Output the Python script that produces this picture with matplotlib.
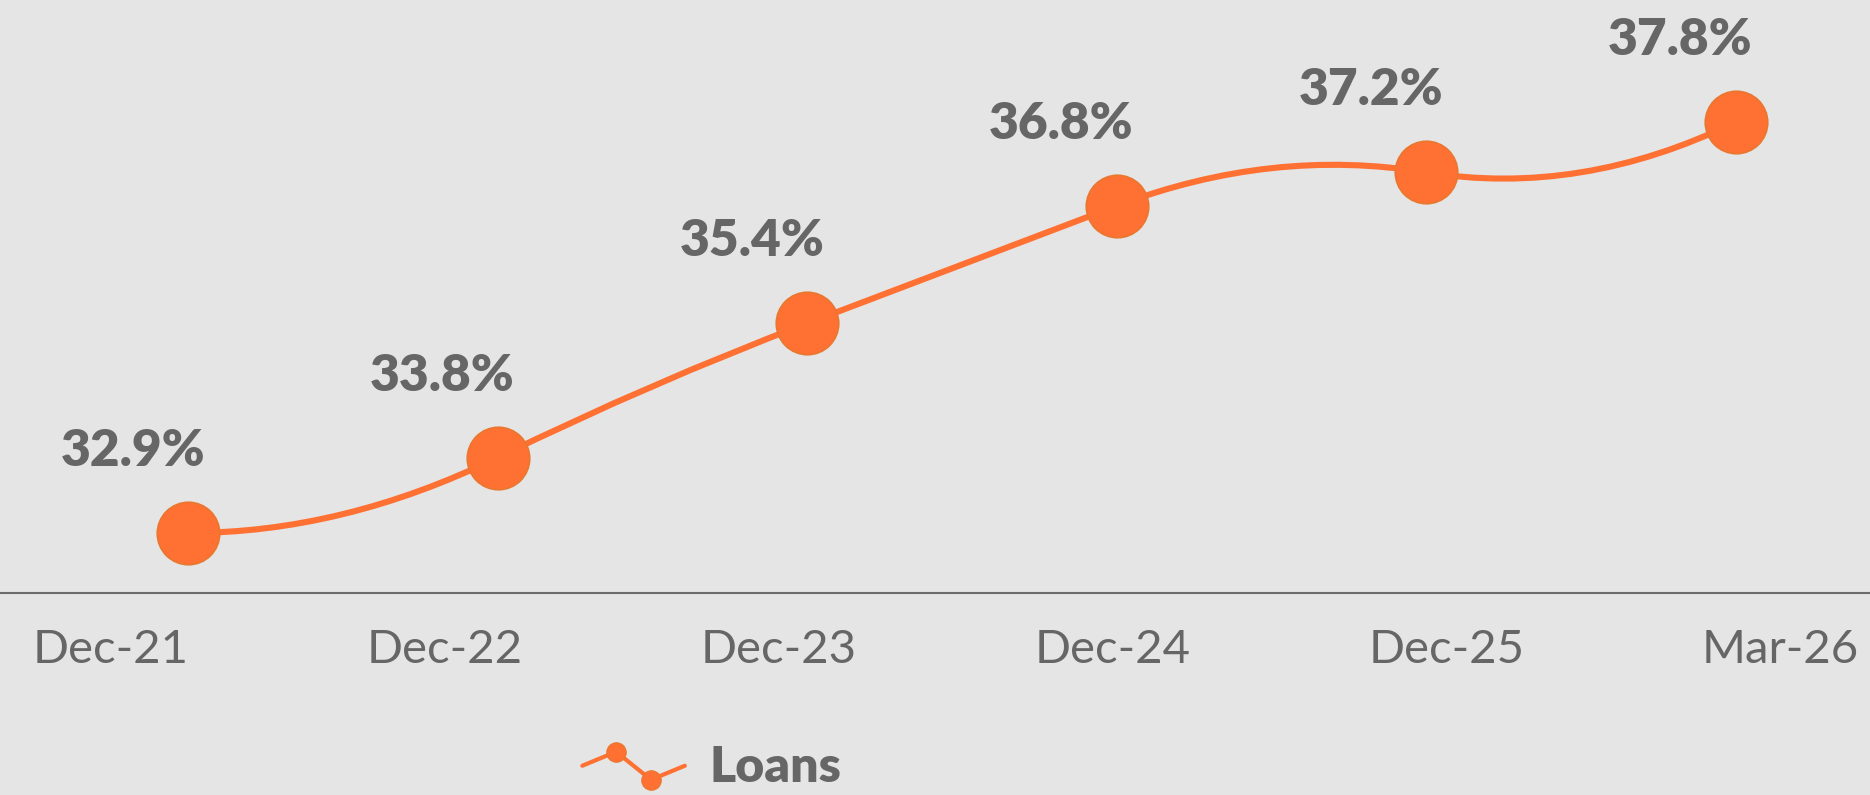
import numpy as np
import matplotlib
matplotlib.use("Agg")
import matplotlib.pyplot as plt
from matplotlib.path import Path
from matplotlib.patches import PathPatch
from matplotlib.lines import Line2D
from matplotlib.legend_handler import HandlerBase

# data
periods = ["Dec-21", "Dec-22", "Dec-23", "Dec-24", "Dec-25", "Mar-26"]
loans_pct = [32.9, 33.8, 35.4, 36.8, 37.2, 37.8]
series_name = "Loans"

BG = "#e5e5e5"
ORANGE = "#ff7033"
EDGE = "#e8772f"
GREY = "#666666"

plt.rcParams["font.family"] = ["Lato", "DejaVu Sans"]

W, H = 1870, 795
fig = plt.figure(figsize=(W / 100, H / 100), dpi=100)
fig.patch.set_facecolor(BG)

# main plot area: runs full width, bottom edge is the axis line
axis_y = 593
ax = fig.add_axes([0, (H - axis_y) / H, 1, axis_y / H])
ax.set_facecolor(BG)

x = np.arange(len(loans_pct))
y = np.array(loans_pct)

# first point sits 188px in, points are ~309.5px apart
step = 309.5
ax.set_xlim(-188.3 / step, (W - 188.3) / step)
px_per_unit = (533 - 122) / (y[-1] - y[0])
ax.set_ylim(y[0] - (axis_y - 533) / px_per_unit, y[-1] + 122 / px_per_unit)

# smooth line: quadratic spline pieces, slope carried across each point
slopes = [0.0]
for i in range(len(x) - 1):
    chord = (y[i + 1] - y[i]) / (x[i + 1] - x[i])
    slopes.append(2 * chord - slopes[-1])
verts = [(x[0], y[0])]
codes = [Path.MOVETO]
for i in range(len(x) - 1):
    dx = x[i + 1] - x[i]
    verts.append((x[i] + dx / 2, y[i] + slopes[i] * dx / 2))
    verts.append((x[i + 1], y[i + 1]))
    codes += [Path.CURVE3, Path.CURVE3]
ax.add_patch(PathPatch(Path(verts, codes), facecolor="none", edgecolor=ORANGE,
                       lw=4.4, capstyle="round", zorder=2))

ax.plot(x, y, ls="none", marker="o", ms=45, mfc=ORANGE, mec=EDGE, mew=1.2,
        zorder=3)

for xi, yi in zip(x, y):
    ax.annotate(f"{yi:.1f}%", (xi, yi), textcoords="offset points",
                xytext=(-40, 59), ha="center", va="center", fontsize=37,
                fontweight="heavy", color=GREY, zorder=4)

for s in ["top", "left", "right"]:
    ax.spines[s].set_visible(False)
ax.spines["bottom"].set_color("#6b6b6b")
ax.spines["bottom"].set_linewidth(1.5)
ax.set_xticks([])
ax.set_yticks([])

# category labels are spread evenly across the full width
lab = fig.add_axes(ax.get_position(), frameon=False)
lab.patch.set_alpha(0)
lab_step = 333.8
lab.set_xlim(-111 / lab_step, (W - 111) / lab_step)
lab.set_xticks(x)
lab.set_xticklabels(periods, fontsize=34, color=GREY)
lab.tick_params(axis="x", length=0, pad=26)
lab.set_yticks([])


class ZigzagHandler(HandlerBase):
    def create_artists(self, legend, orig_handle, xdescent, ydescent,
                       width, height, fontsize, trans):
        xs = np.array([0.0, 0.33, 0.67, 1.0]) * width - xdescent
        ys = np.array([0.45, 0.85, 0.05, 0.45]) * height - ydescent
        line = Line2D(xs, ys, color=ORANGE, lw=3.0, solid_capstyle="round")
        dots = Line2D(xs[1:3], ys[1:3], ls="none", marker="o", ms=14,
                      mfc=ORANGE, mec=EDGE, mew=0.8)
        line.set_transform(trans)
        dots.set_transform(trans)
        return [line, dots]


handle = Line2D([], [], color=ORANGE)
fig.legend([handle], [series_name], handler_map={Line2D: ZigzagHandler()},
           loc="center", bbox_to_anchor=(712 / W, 1 - 767 / H),
           frameon=False, handlelength=2.05, handletextpad=0.5, borderpad=0,
           prop={"family": ["Lato", "DejaVu Sans"], "weight": "heavy",
                 "size": 36}, labelcolor=GREY)

fig.savefig("out.png", dpi=100, facecolor=BG)
